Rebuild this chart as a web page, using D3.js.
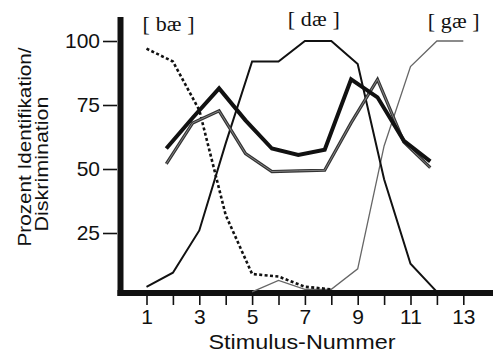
<!DOCTYPE html>
<html>
<head>
<meta charset="utf-8">
<script src="https://cdn.jsdelivr.net/npm/d3@7"></script>
<style>
  html, body { margin: 0; padding: 0; background: #fff; }
  svg { display: block; }
  .tick text { font-family: "Liberation Sans", Arial, sans-serif; fill: #111; }
</style>
</head>
<body>
<div id="chart"></div>
<script>
// stimulus numbers along the continuum
const stimuli = [1, 2, 3, 4, 5, 6, 7, 8, 9, 10, 11, 12, 13];
const xTickLabels = ['1', '', '3', '', '5', '', '7', '', '9', '', '11', '', '13'];
const yTicks = [25, 50, 75, 100];

// identification curves (percent), one value per stimulus
const baeStim = [1, 2, 3, 4, 5, 6, 7, 8];
const bae = [97, 92, 73, 32, 9, 8, 4, 3];
const daeStim = [1, 2, 3, 4, 5, 6, 7, 8, 9, 10, 11, 12];
const dae = [4, 9.5, 26, 60, 92, 92, 100, 100, 91, 46, 13, 2];
const gaeStim = [5, 6, 7, 8, 9, 10, 11, 12, 13];
const gae = [2, 6.5, 3, 3, 11, 59, 90, 100, 100];

// discrimination (pairs), observed and predicted
const discStim = [1.75, 2.75, 3.75, 4.75, 5.75, 6.75, 7.75, 8.75, 9.75, 10.75, 11.75];
const discObserved = [58, 70, 81.5, 69, 58, 55.5, 57.5, 85, 78, 61, 53];
const discPredicted = [52, 68, 72.7, 56, 49, 49.3, 49.5, 68, 85, 60.5, 50.5];

const phonemes = ['[ bæ ]', '[ dæ ]', '[ gæ ]'];

const width = 502, height = 354;

const svg = d3.select('#chart').append('svg')
  .attr('width', width)
  .attr('height', height);

const x = d3.scaleLinear().domain([1, 13]).range([146.5, 463.3]);
const y = d3.scaleLinear().domain([0, 100]).range([297, 41]);

const line = d3.line()
  .x(d => x(d[0]))
  .y(d => y(d[1]));

const zipped = (xs, ys) => xs.map((v, i) => [v, ys[i]]);

// x axis ticks
const xAxis = svg.append('g')
  .attr('transform', 'translate(0,296)')
  .call(d3.axisBottom(x)
    .tickValues(stimuli)
    .tickFormat((d, i) => xTickLabels[i])
    .tickSize(9)
    .tickPadding(4));
xAxis.select('.domain').remove();
xAxis.selectAll('.tick line').attr('stroke', '#111').attr('stroke-width', 1.6);
xAxis.selectAll('.tick text').attr('font-size', 21);

// y axis ticks
const yAxis = svg.append('g')
  .attr('transform', 'translate(117,0)')
  .call(d3.axisLeft(y)
    .tickValues(yTicks)
    .tickSize(14)
    .tickPadding(3));
yAxis.select('.domain').remove();
yAxis.selectAll('.tick line').attr('stroke', '#111').attr('stroke-width', 1.6);
yAxis.selectAll('.tick text').attr('font-size', 21);

// heavy frame lines
svg.append('line')
  .attr('x1', 120.5).attr('x2', 120.5)
  .attr('y1', 17).attr('y2', 296)
  .attr('stroke', '#111').attr('stroke-width', 6);
svg.append('line')
  .attr('x1', 117.5).attr('x2', 493)
  .attr('y1', 293).attr('y2', 293)
  .attr('stroke', '#111').attr('stroke-width', 6);

// identification: [gae] thin grey
svg.append('path')
  .datum(zipped(gaeStim, gae))
  .attr('fill', 'none')
  .attr('stroke', '#666')
  .attr('stroke-width', 1.3)
  .attr('d', line);

// identification: [dae] solid
svg.append('path')
  .datum(zipped(daeStim, dae))
  .attr('fill', 'none')
  .attr('stroke', '#111')
  .attr('stroke-width', 2)
  .attr('d', line);

// identification: [bae] dotted
svg.append('path')
  .datum(zipped(baeStim, bae))
  .attr('fill', 'none')
  .attr('stroke', '#111')
  .attr('stroke-width', 2.6)
  .attr('stroke-dasharray', '3,2.4')
  .attr('d', line);

// predicted discrimination: grey double line
svg.append('path')
  .datum(zipped(discStim, discPredicted))
  .attr('fill', 'none')
  .attr('stroke', '#333')
  .attr('stroke-width', 3.2)
  .attr('d', line);
svg.append('path')
  .datum(zipped(discStim, discPredicted))
  .attr('fill', 'none')
  .attr('stroke', '#999')
  .attr('stroke-width', 0.8)
  .attr('d', line);

// observed discrimination: heavy black
svg.append('path')
  .datum(zipped(discStim, discObserved))
  .attr('fill', 'none')
  .attr('stroke', '#111')
  .attr('stroke-width', 4)
  .attr('d', line);

// phoneme labels
const labelPos = [[0.85, 31], [6.35, 26], [11.65, 28]];
svg.selectAll('.phon')
  .data(phonemes)
  .join('text')
  .attr('class', 'phon')
  .attr('x', (d, i) => x(labelPos[i][0]))
  .attr('y', (d, i) => labelPos[i][1])
  .attr('font-family', '"Liberation Serif", "Times New Roman", serif')
  .attr('font-size', 22)
  .attr('textLength', 52)
  .attr('fill', '#111')
  .text(d => d);

// axis titles
svg.append('text')
  .attr('x', 302).attr('y', 349)
  .attr('text-anchor', 'middle')
  .attr('font-family', '"Liberation Sans", Arial, sans-serif')
  .attr('font-size', 21)
  .attr('textLength', 187)
  .attr('lengthAdjust', 'spacingAndGlyphs')
  .attr('fill', '#111')
  .text('Stimulus-Nummer');

const yTitle = [['Prozent Identifikation/', 31, 147, 199], ['Diskrimination', 47.5, 164, 135]];
yTitle.forEach(([t, tx, ty, len]) => {
  svg.append('text')
    .attr('transform', `translate(${tx},${ty}) rotate(-90)`)
    .attr('text-anchor', 'middle')
    .attr('font-family', '"Liberation Sans", Arial, sans-serif')
    .attr('font-size', 17.5)
    .attr('textLength', len)
    .attr('lengthAdjust', 'spacingAndGlyphs')
    .attr('fill', '#111')
    .text(t);
});
</script>
</body>
</html>
